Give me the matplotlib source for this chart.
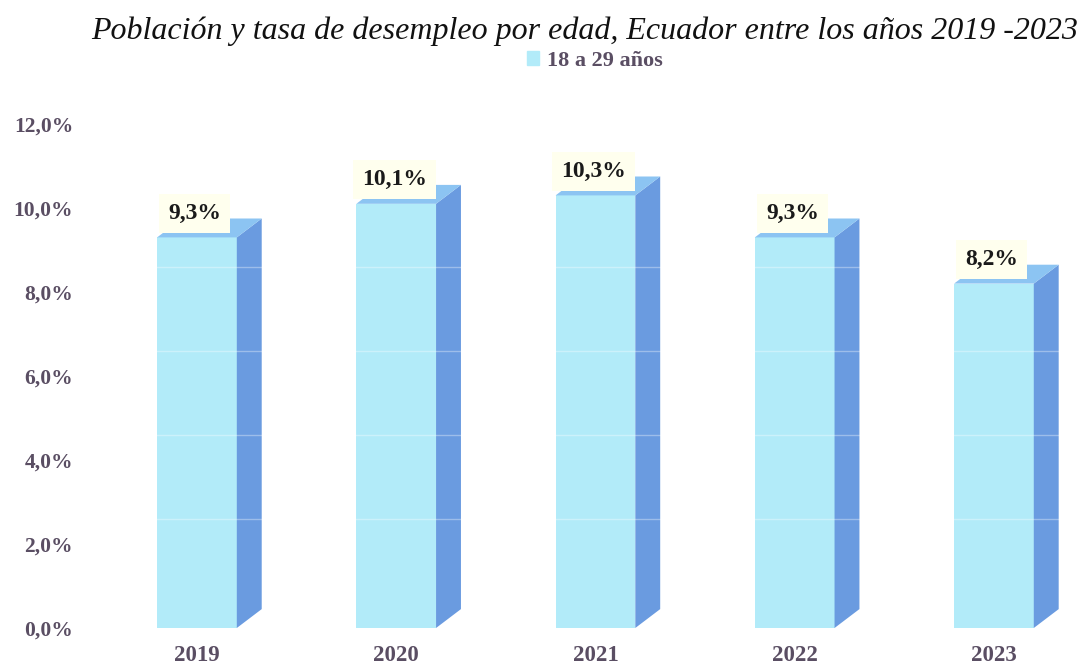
import matplotlib.pyplot as plt
from matplotlib.patches import Polygon, Patch
import numpy as np

# data
years = ['2019', '2020', '2021', '2022', '2023']
rates = [9.3, 10.1, 10.3, 9.3, 8.2]
series_name = '18 a 29 años'
title = 'Población y tasa de desempleo por edad, Ecuador entre los años 2019 -2023'
y_ticks = [0, 2, 4, 6, 8, 10, 12]

front_color = '#B2EBF9'
side_color = '#6A9BE0'
top_color = '#8CC4F2'
text_color = '#5a4e63'

bar_w = 0.40
depth_x = 0.125   # pseudo 3D depth, in data units
depth_y = 0.45

fig = plt.figure(figsize=(10.82, 6.65), dpi=100)
ax = fig.add_axes([80 / 1082, 37 / 665, 1002 / 1082, 504 / 665])

x = np.arange(len(years))
ax.bar(x, rates, width=bar_w, color=front_color, zorder=2)

for xi, v in zip(x, rates):
    left, right = xi - bar_w / 2, xi + bar_w / 2
    side = Polygon([(right, 0), (right + depth_x, depth_y),
                    (right + depth_x, v + depth_y), (right, v)],
                   closed=True, facecolor=side_color, edgecolor='none', zorder=2)
    top = Polygon([(left, v), (right, v), (right + depth_x, v + depth_y),
                   (left + depth_x, v + depth_y)],
                  closed=True, facecolor=top_color, edgecolor='none', zorder=2)
    ax.add_patch(side)
    ax.add_patch(top)
    # faint back-wall gridlines showing through the bars
    for g in y_ticks[1:-1]:
        if g + 0.6 < v:
            ax.plot([left, right + depth_x], [g + 0.6, g + 0.6], color='white',
                    alpha=0.35, lw=1, zorder=3)
    ax.text(xi - 0.01, v + 0.58, f'{v:.1f}%'.replace('.', ','), ha='center', va='center',
            fontsize=17, fontweight='bold', family='Liberation Serif', color='#1a1a1a',
            bbox=dict(boxstyle='square,pad=0.38', facecolor='#FFFFEE', edgecolor='none'),
            zorder=4)

ax.set_xlim(-0.587, 4.442)
ax.set_ylim(0, 12)
ax.set_xticks(x)
ax.set_xticklabels(years)
ax.set_yticks(y_ticks)
ax.set_yticklabels([f'{t:.1f}%'.replace('.', ',') for t in y_ticks])
for lab in ax.get_xticklabels() + ax.get_yticklabels():
    lab.set_family('Liberation Serif')
    lab.set_fontweight('bold')
    lab.set_color(text_color)
ax.tick_params(axis='x', length=0, pad=12, labelsize=16.5)
ax.tick_params(axis='y', length=0, pad=5, labelsize=15.5)
for s in ax.spines.values():
    s.set_visible(False)

fig.text(585 / 1082, 1 - 39 / 665, title, ha='center', va='baseline',
         fontsize=23, fontstyle='italic', family='Liberation Serif', color='#111111')

fig.legend(handles=[Patch(color=front_color)], labels=[series_name], loc='center',
           bbox_to_anchor=(595 / 1082, 1 - 61 / 665), frameon=False,
           handlelength=0.55, handleheight=0.55, handletextpad=0.35,
           prop=dict(family='Liberation Serif', weight='bold', size=16),
           labelcolor=text_color)

fig.savefig('out.png', dpi=100)
